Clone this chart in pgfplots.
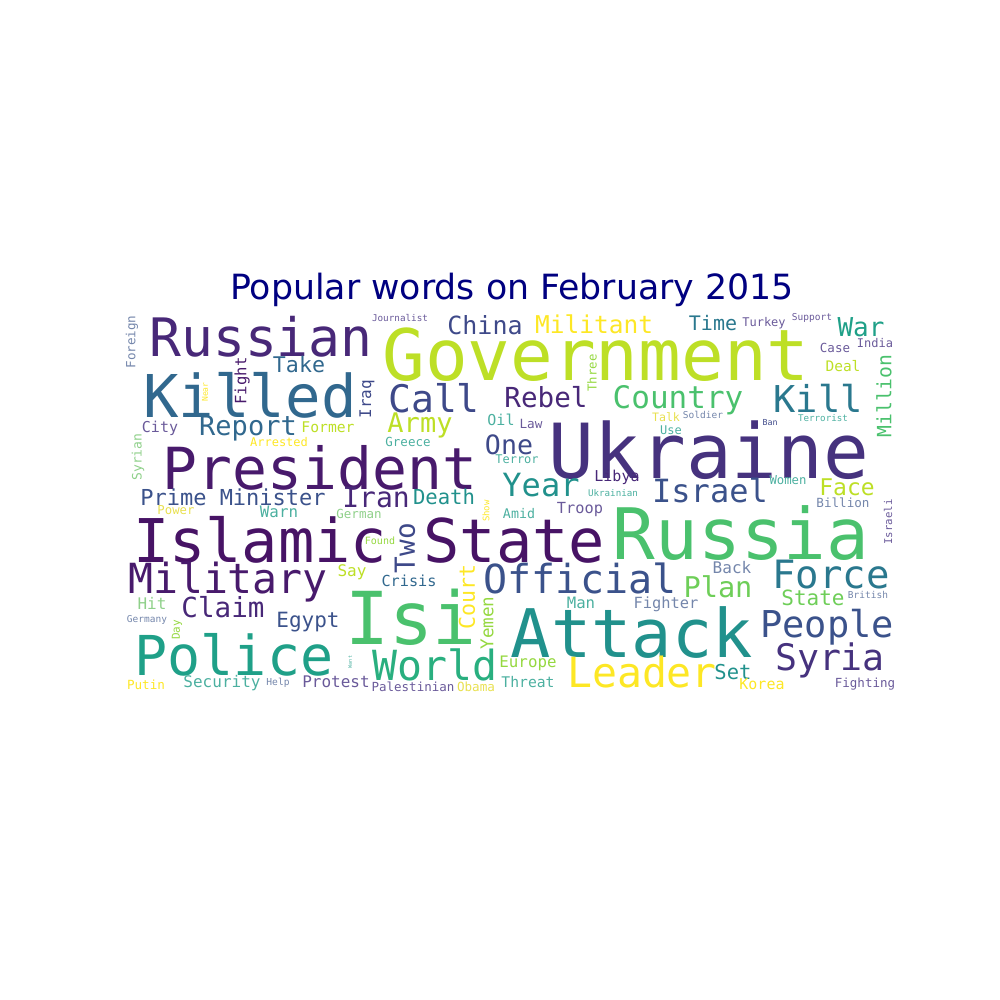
\documentclass[border=0pt]{standalone}
\usepackage{pgfplots}
\pgfplotsset{compat=1.18}
\usepackage{fontspec}
\setmainfont{DejaVu Sans}
\newfontfamily\mono{DejaVu Sans Mono}
\definecolor{vA}{HTML}{440154}\definecolor{vB}{HTML}{481A6C}\definecolor{vC}{HTML}{482878}
\definecolor{vD}{HTML}{46327E}\definecolor{vE}{HTML}{3E4989}\definecolor{vF}{HTML}{3B528B}
\definecolor{vG}{HTML}{31688E}\definecolor{vH}{HTML}{2A788E}\definecolor{vI}{HTML}{21918C}
\definecolor{vJ}{HTML}{1FA088}\definecolor{vK}{HTML}{29AF7F}\definecolor{vL}{HTML}{4AC16D}
\definecolor{vM}{HTML}{6ECE58}\definecolor{vN}{HTML}{95D840}\definecolor{vO}{HTML}{BDDF26}
\definecolor{vP}{HTML}{FDE725}\definecolor{vQ}{HTML}{6A5A9A}\definecolor{vR}{HTML}{7486AB}
\definecolor{vS}{HTML}{4CB0A0}\definecolor{vT}{HTML}{E8E050}\definecolor{vU}{HTML}{8FD08A}
\definecolor{vIS}{HTML}{471365}
\newcommand\w[6]{\node[rotate=#4,text=#5,inner sep=0pt,font=\fontsize{\fpeval{#3*0.2835}}{\fpeval{#3*0.3}}\selectfont\mono] at (axis cs:#1,#2) {#6};}
\begin{document}
\begin{tikzpicture}
\begin{axis}[x=0.2835pt,y=0.2835pt,xmin=0,xmax=1000,ymin=0,ymax=1000,y dir=reverse,hide axis,clip=false]
\addplot[draw=none] coordinates {(0,0) (1000,1000)};
\node[text={rgb,255:red,0;green,0;blue,128},inner sep=0pt,font=\fontsize{9.85}{11}\selectfont] at (axis cs:512,290) {Popular words on February 2015};
\w{132}{342}{12.6}{90}{vR}{Foreign}
\w{261}{337}{53}{0}{vC}{Russian}
\w{400}{318}{9.3}{0}{vQ}{Journalist}
\w{485}{325}{25}{0}{vE}{China}
\w{299}{364}{21.6}{0}{vG}{Take}
\w{242}{381}{15.6}{90}{vB}{Fight}
\w{205}{392}{8}{90}{vP}{Near}
\w{250}{395}{59}{0}{vG}{Killed}
\w{367}{399}{16}{90}{vE}{Iraq}
\w{434}{398}{38}{0}{vE}{Call}
\w{248}{428}{27}{0}{vG}{Report}
\w{328}{427}{14.7}{0}{vO}{Former}
\w{420}{425}{27}{0}{vO}{Army}
\w{160}{428}{15}{0}{vQ}{City}
\w{279}{442}{12}{0}{vP}{Arrested}
\w{408}{442}{12.5}{0}{vS}{Greece}
\w{138}{457}{13}{90}{vU}{Syrian}
\w{320}{468}{58}{0}{vB}{President}
\w{233}{497}{22}{0}{vF}{Prime Minister}
\w{376}{497}{28}{0}{vC}{Iran}
\w{444}{497}{20.6}{0}{vI}{Death}
\w{509}{445}{26.6}{0}{vE}{One}
\w{501}{420}{15}{0}{vS}{Oil}
\w{531}{424}{12.7}{0}{vQ}{Law}
\w{517}{459}{12}{0}{vS}{Terror}
\w{594}{324}{24.5}{0}{vP}{Militant}
\w{713}{323}{20}{0}{vH}{Time}
\w{764}{323}{12}{0}{vQ}{Turkey}
\w{812}{318}{9.5}{0}{vQ}{Support}
\w{861}{327}{26}{0}{vJ}{War}
\w{596}{355}{71}{0}{vO}{Government}
\w{835}{348}{12.5}{0}{vQ}{Case}
\w{875}{343}{12}{0}{vQ}{India}
\w{592}{373}{12.3}{90}{vN}{Three}
\w{843}{366}{14.5}{0}{vO}{Deal}
\w{884}{396}{19.7}{90}{vL}{Million}
\w{546}{397}{27.6}{0}{vC}{Rebel}
\w{678}{400}{31}{0}{vL}{Country}
\w{818}{398}{37}{0}{vH}{Kill}
\w{666}{417}{11.6}{0}{vT}{Talk}
\w{703}{415}{9.5}{0}{vR}{Soldier}
\w{770}{423}{8.3}{0}{vE}{Ban}
\w{823}{418}{9.2}{0}{vS}{Terrorist}
\w{709}{450}{76}{0}{vD}{Ukraine}
\w{671}{430}{12}{0}{vS}{Use}
\w{541}{485}{32}{0}{vI}{Year}
\w{617}{477}{15}{0}{vC}{Libya}
\w{613}{493}{9.2}{0}{vS}{Ukrainian}
\w{710}{490}{32}{0}{vF}{Israel}
\w{788}{480}{12.3}{0}{vS}{Women}
\w{847}{487}{23}{0}{vO}{Face}
\w{888}{522}{10.7}{90}{vQ}{Israeli}
\w{843}{503}{12.6}{0}{vR}{Billion}
\w{176}{510}{12.3}{0}{vT}{Power}
\w{279}{512}{15.8}{0}{vS}{Warn}
\w{359}{514}{12.5}{0}{vU}{German}
\w{486}{511}{9}{90}{vP}{Show}
\w{519}{514}{13.3}{0}{vS}{Amid}
\w{580}{510}{15.3}{0}{vQ}{Troop}
\w{369}{540}{60.3}{0}{vIS}{Islamic State}
\w{405}{548}{27.7}{90}{vE}{Two}
\w{380}{541}{10}{0}{vN}{Found}
\w{352}{572}{16}{0}{vO}{Say}
\w{228}{582}{41.5}{0}{vB}{Military}
\w{409}{581}{15.2}{0}{vG}{Crisis}
\w{467}{597}{21.6}{90}{vP}{Court}
\w{152}{603}{16}{0}{vU}{Hit}
\w{223}{607}{27.6}{0}{vC}{Claim}
\w{147}{620}{9.5}{0}{vR}{Germany}
\w{308}{622}{21}{0}{vF}{Egypt}
\w{177}{630}{11}{90}{vN}{Day}
\w{487}{623}{17.6}{90}{vN}{Yemen}
\w{234}{655}{55}{0}{vJ}{Police}
\w{411}{617}{73}{0}{vL}{Isi}
\w{350}{662}{5}{90}{vS}{Want}
\w{435}{665}{41.5}{0}{vK}{World}
\w{146}{685}{12.6}{0}{vP}{Putin}
\w{222}{683}{16}{0}{vS}{Security}
\w{278}{683}{9.6}{0}{vR}{Help}
\w{336}{682}{16}{0}{vQ}{Protest}
\w{413}{687}{12.5}{0}{vQ}{Palestinian}
\w{476}{687}{12.6}{0}{vT}{Obama}
\w{741}{533}{71}{0}{vL}{Russia}
\w{580}{578}{40}{0}{vF}{Official}
\w{732}{568}{16}{0}{vR}{Back}
\w{718}{587}{28.6}{0}{vM}{Plan}
\w{831}{575}{39}{0}{vH}{Force}
\w{581}{603}{15.7}{0}{vS}{Man}
\w{666}{604}{15.4}{0}{vR}{Fighter}
\w{813}{598}{21}{0}{vM}{State}
\w{868}{595}{9.5}{0}{vR}{British}
\w{632}{633}{67}{0}{vI}{Attack}
\w{827}{627}{37}{0}{vF}{People}
\w{528}{663}{15.8}{0}{vN}{Europe}
\w{642}{672}{41.5}{0}{vP}{Leader}
\w{733}{672}{20.5}{0}{vI}{Set}
\w{830}{660}{36.5}{0}{vD}{Syria}
\w{528}{682}{14.7}{0}{vS}{Threat}
\w{762}{684}{15}{0}{vP}{Korea}
\w{865}{684}{12.5}{0}{vQ}{Fighting}
\end{axis}
\end{tikzpicture}
\end{document}
